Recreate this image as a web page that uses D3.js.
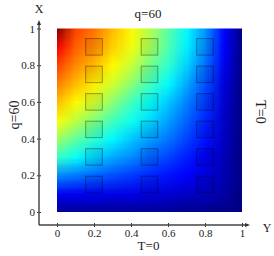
<!DOCTYPE html>
<html>
<head>
<meta charset="utf-8">
<script src="https://cdn.jsdelivr.net/npm/d3@7"></script>
<style>
  body { margin: 0; background: #fff; }
  svg text { font-family: "Liberation Serif", "Times New Roman", serif; fill: #222; }
</style>
</head>
<body>
<svg id="chart"></svg>
<script>
// field values, nodes every 0.1, rows from top (X=1) to bottom (X=0)
const yNodes = [1, 0.9, 0.8, 0.7, 0.6, 0.5, 0.4, 0.3, 0.2, 0.1, 0];
const xNodes = [0, 0.1, 0.2, 0.3, 0.4, 0.5, 0.6, 0.7, 0.8, 0.9, 1];
const fieldValues = [
  [1.00, 0.81, 0.76, 0.69, 0.63, 0.55, 0.46, 0.37, 0.27, 0.13, 0.00],
  [0.88, 0.78, 0.74, 0.67, 0.61, 0.54, 0.45, 0.36, 0.26, 0.12, 0.00],
  [0.81, 0.74, 0.69, 0.63, 0.57, 0.49, 0.42, 0.33, 0.23, 0.11, 0.00],
  [0.75, 0.69, 0.64, 0.58, 0.51, 0.44, 0.37, 0.29, 0.20, 0.09, 0.00],
  [0.69, 0.63, 0.58, 0.51, 0.44, 0.38, 0.32, 0.25, 0.18, 0.08, 0.00],
  [0.62, 0.56, 0.50, 0.44, 0.39, 0.34, 0.28, 0.22, 0.16, 0.07, 0.00],
  [0.53, 0.47, 0.42, 0.37, 0.32, 0.28, 0.24, 0.19, 0.14, 0.065, 0.00],
  [0.43, 0.38, 0.33, 0.29, 0.26, 0.22, 0.19, 0.15, 0.11, 0.055, 0.00],
  [0.26, 0.24, 0.22, 0.20, 0.18, 0.16, 0.14, 0.12, 0.09, 0.05, 0.00],
  [0.11, 0.11, 0.11, 0.10, 0.10, 0.09, 0.08, 0.07, 0.06, 0.035, 0.00],
  [0.02, 0.02, 0.02, 0.02, 0.02, 0.02, 0.02, 0.01, 0.01, 0.01, 0.00]
];

// small boxes drawn over the field
const boxX = [0.2, 0.5, 0.8];
const boxY = [0.15, 0.3, 0.45, 0.6, 0.75, 0.9];
const boxSize = 0.09;

const xTicks = [0, 0.2, 0.4, 0.6, 0.8, 1];
const yTicks = [0, 0.2, 0.4, 0.6, 0.8, 1];

const width = 274, height = 256;
const axisX = 39, axisY = 225;

const svg = d3.select("#chart").attr("width", width).attr("height", height);

const x = d3.scaleLinear().domain([0, 1]).range([57, 242]);
const y = d3.scaleLinear().domain([0, 1]).range([212, 28.5]);

// matlab style jet
const jet = t => {
  const c = v => Math.max(0, Math.min(1, 1.5 - Math.abs(4 * t - v)));
  return d3.rgb(255 * c(3), 255 * c(2), 255 * c(1));
};
const color = d3.scaleSequential(jet).domain([0, 1]);

// one pixel per node, the browser smooths it when the image is stretched
const cols = xNodes.length, rows = yNodes.length;
const canvas = document.createElement("canvas");
canvas.width = cols;
canvas.height = rows;
const ctx = canvas.getContext("2d");
const img = ctx.createImageData(cols, rows);
fieldValues.forEach((row, j) => {
  row.forEach((v, i) => {
    const c = color(v);
    const k = (j * cols + i) * 4;
    img.data[k] = c.r;
    img.data[k + 1] = c.g;
    img.data[k + 2] = c.b;
    img.data[k + 3] = 255;
  });
});
ctx.putImageData(img, 0, 0);

const cw = (x(1) - x(0)) / (cols - 1);
const ch = (y(0) - y(1)) / (rows - 1);

svg.append("defs").append("clipPath").attr("id", "plotClip")
  .append("rect")
  .attr("x", x(0)).attr("y", y(1))
  .attr("width", x(1) - x(0)).attr("height", y(0) - y(1));

svg.append("g").attr("clip-path", "url(#plotClip)")
  .append("image")
  .attr("href", canvas.toDataURL())
  .attr("x", x(0) - cw / 2)
  .attr("y", y(1) - ch / 2)
  .attr("width", cw * cols)
  .attr("height", ch * rows)
  .attr("preserveAspectRatio", "none");

// boxes
const boxes = [];
boxX.forEach(bx => boxY.forEach(by => boxes.push({ bx, by })));
svg.append("g").selectAll("rect")
  .data(boxes)
  .join("rect")
  .attr("x", d => x(d.bx - boxSize / 2))
  .attr("y", d => y(d.by + boxSize / 2))
  .attr("width", x(boxSize) - x(0))
  .attr("height", y(0) - y(boxSize))
  .attr("fill", "rgba(0,0,0,0.05)")
  .attr("stroke", "rgba(0,0,0,0.35)")
  .attr("stroke-width", 1);

// left axis
const yAxis = svg.append("g")
  .attr("transform", `translate(${axisX},0)`)
  .call(d3.axisLeft(y).tickValues(yTicks).tickFormat(d => d).tickSize(2).tickPadding(2));
yAxis.select(".domain").remove();
yAxis.selectAll(".tick line").attr("x1", 2).attr("x2", -2).attr("stroke", "#333");
yAxis.selectAll(".tick text").style("font-size", "11px").attr("fill", "#222");

// bottom axis
const xAxis = svg.append("g")
  .attr("transform", `translate(0,${axisY})`)
  .call(d3.axisBottom(x).tickValues(xTicks).tickFormat(d => d).tickSize(2).tickPadding(2));
xAxis.select(".domain").remove();
xAxis.selectAll(".tick line").attr("y1", -2).attr("y2", 2).attr("stroke", "#333");
xAxis.selectAll(".tick text").style("font-size", "11px").attr("fill", "#222");

// axis lines with arrow heads
svg.append("line")
  .attr("x1", axisX).attr("y1", axisY).attr("x2", axisX).attr("y2", 23)
  .attr("stroke", "#555").attr("stroke-width", 1.6);
svg.append("line")
  .attr("x1", axisX).attr("y1", axisY).attr("x2", 247).attr("y2", axisY)
  .attr("stroke", "#444").attr("stroke-width", 1.4);
svg.append("path")
  .attr("d", `M${axisX - 2},${25} L${axisX},${20} L${axisX + 2},${25} Z`)
  .attr("fill", "#333");
svg.append("path")
  .attr("d", `M${245},${axisY - 2} L${250},${axisY} L${245},${axisY + 2} Z`)
  .attr("fill", "#333");

// labels
svg.append("text").attr("x", axisX).attr("y", 13)
  .attr("text-anchor", "middle").style("font-size", "12px").text("X");
svg.append("text").attr("x", 267).attr("y", 232)
  .attr("text-anchor", "middle").style("font-size", "12px").text("Y");
svg.append("text").attr("x", 148).attr("y", 18)
  .attr("text-anchor", "middle").style("font-size", "13px").text("q=60");
svg.append("text").attr("x", 148.5).attr("y", 250)
  .attr("text-anchor", "middle").style("font-size", "13px").text("T=0");
svg.append("text")
  .attr("transform", "translate(19,115) rotate(-90)")
  .attr("text-anchor", "middle").style("font-size", "14px").text("q=60");
svg.append("text")
  .attr("transform", "translate(256,112) rotate(90)")
  .attr("text-anchor", "middle").style("font-size", "14px").text("T=0");
</script>
</body>
</html>
